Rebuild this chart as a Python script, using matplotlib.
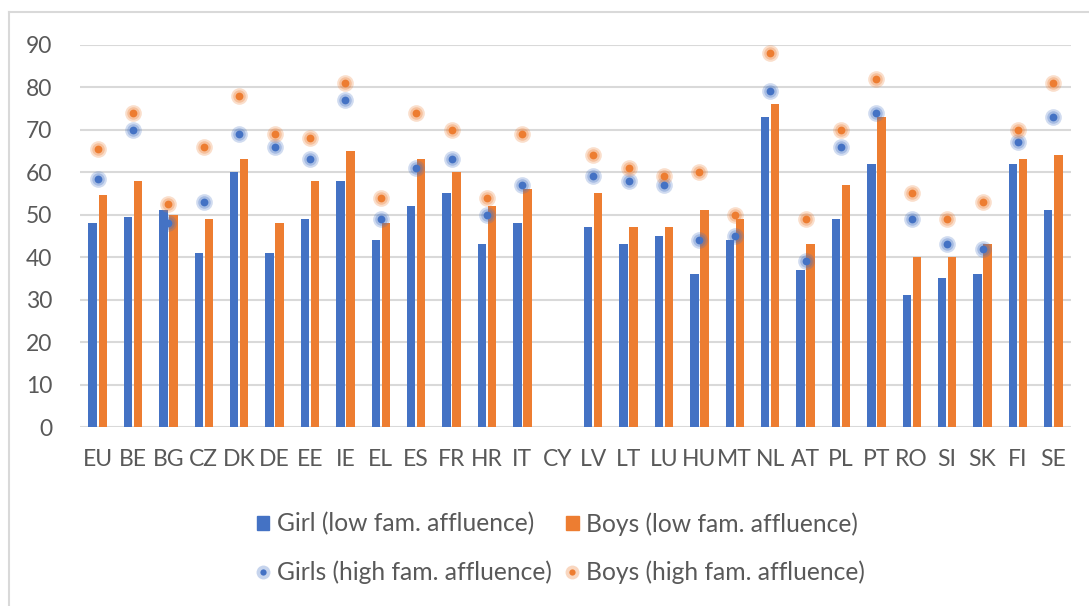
import numpy as np
import matplotlib
matplotlib.use('Agg')
import matplotlib.pyplot as plt
from matplotlib.lines import Line2D
from matplotlib.patches import Patch

countries = ['EU', 'BE', 'BG', 'CZ', 'DK', 'DE', 'EE', 'IE', 'EL', 'ES', 'FR', 'HR', 'IT', 'CY',
             'LV', 'LT', 'LU', 'HU', 'MT', 'NL', 'AT', 'PL', 'PT', 'RO', 'SI', 'SK', 'FI', 'SE']
nan = np.nan
girls_low = [48, 49.5, 51, 41, 60, 41, 49, 58, 44, 52, 55, 43, 48, nan,
             47, 43, 45, 36, 44, 73, 37, 49, 62, 31, 35, 36, 62, 51]
boys_low = [54.5, 58, 50, 49, 63, 48, 58, 65, 48, 63, 60, 52, 56, nan,
            55, 47, 47, 51, 49, 76, 43, 57, 73, 40, 40, 43, 63, 64]
girls_high = [58.5, 70, 48, 53, 69, 66, 63, 77, 49, 61, 63, 50, 57, nan,
              59, 58, 57, 44, 45, 79, 39, 66, 74, 49, 43, 42, 67, 73]
boys_high = [65.5, 74, 52.5, 66, 78, 69, 68, 81, 54, 74, 70, 54, 69, nan,
             64, 61, 59, 60, 50, 88, 49, 70, 82, 55, 49, 53, 70, 81]

BLUE = '#4472C4'
ORANGE = '#ED7D31'
GRID = '#D9D9D9'
TEXT = '#595959'

plt.rcParams['font.family'] = ['Lato', 'DejaVu Sans']

fig = plt.figure(figsize=(10.89, 6.06), dpi=100)
ax = fig.add_axes([80 / 1089, 1 - 427 / 606, 991 / 1089, (427 - 44.7) / 606])

x = np.arange(len(countries))
w = 0.237
off = 0.142
ax.bar(x - off, girls_low, width=w, color=BLUE, zorder=2)
ax.bar(x + off, boys_low, width=w, color=ORANGE, zorder=2)


def glow_dots(vals, color):
    # soft halo round a solid dot
    ax.plot(x, vals, 'o', ms=12, color=color, alpha=0.25, mec='none', zorder=3)
    ax.plot(x, vals, 'o', ms=9, color=color, alpha=0.3, mec='none', zorder=3)
    ax.plot(x, vals, 'o', ms=5.6, color=color, mec='none', zorder=4)


glow_dots(girls_high, BLUE)
glow_dots(boys_high, ORANGE)

ax.set_xlim(-0.5, len(countries) - 0.5)
ax.set_ylim(0, 90)
ax.set_yticks(range(0, 91, 10))
ax.set_xticks(x)
ax.set_xticklabels(countries)
ax.yaxis.grid(True, color=GRID, lw=1.5, zorder=0)
ax.set_axisbelow(True)
for s in ax.spines.values():
    s.set_visible(False)
ax.tick_params(length=0, labelsize=16.5, colors=TEXT)
ax.tick_params(axis='x', pad=16)
ax.tick_params(axis='y', pad=20)

# chart frame (left and top edge visible)
fig.add_artist(Line2D([9 / 1089, 9 / 1089], [0, 1 - 12 / 606], color=GRID, lw=1.5))
fig.add_artist(Line2D([9 / 1089, 1], [1 - 12 / 606, 1 - 12 / 606], color=GRID, lw=1.5))


def glow_handle(color):
    halo = Line2D([], [], marker='o', ls='none', ms=10, color=color, alpha=0.3, mec='none')
    dot = Line2D([], [], marker='o', ls='none', ms=4.5, color=color, mec='none')
    return (halo, dot)


handles = [Patch(color=BLUE), glow_handle(BLUE), Patch(color=ORANGE), glow_handle(ORANGE)]
labels = ['Girl (low fam. affluence)', 'Girls (high fam. affluence)',
          'Boys (low fam. affluence)', 'Boys (high fam. affluence)']
leg = fig.legend(handles, labels, ncol=2, loc='center', bbox_to_anchor=(0.515, 1 - 548 / 606),
                 frameon=False, fontsize=17.7, handlelength=0.5, handleheight=0.5, handletextpad=0.3,
                 columnspacing=0.6, labelspacing=1.0)
for t in leg.get_texts():
    t.set_color(TEXT)

fig.savefig('out.png', dpi=100)
